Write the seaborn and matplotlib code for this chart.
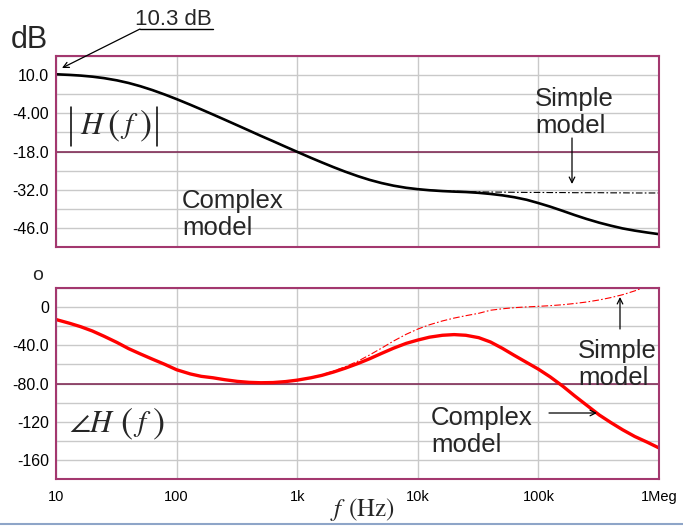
import numpy as np
import pandas as pd
import seaborn as sns
import matplotlib.pyplot as plt
from matplotlib.ticker import MultipleLocator, LogLocator, NullFormatter
from matplotlib.lines import Line2D

# ---- data -----------------------------------------------------------------
freq_hz = [10, 13, 16, 20, 25, 32, 40, 50, 63, 80,
           100, 130, 160, 200, 250, 320, 400, 500, 630, 800,
           1e3, 1.3e3, 1.6e3, 2e3, 2.5e3, 3.2e3, 4e3, 5e3, 6.3e3, 8e3,
           1e4, 1.25e4, 1.6e4, 2e4, 2.5e4, 3.2e4, 4e4, 5e4, 6.3e4, 8e4,
           1e5, 1.25e5, 1.6e5, 2e5, 2.5e5, 3.2e5, 4e5, 5e5, 6.3e5, 8e5,
           1e6]

mag_complex_db = [10.3, 10.07, 9.82, 9.43, 8.89, 8.07, 7.11, 5.93, 4.51, 2.86,
                  1.2, -0.87, -2.57, -4.43, -6.32, -8.43, -10.35, -12.28, -14.21, -16.25,
                  -18.13, -20.32, -21.99, -23.74, -25.39, -27.07, -28.42, -29.56, -30.53, -31.3,
                  -31.81, -32.2, -32.5, -32.7, -32.85, -33.15, -33.55, -34.05, -34.75, -35.7,
                  -36.9, -38.2, -39.8, -41.3, -42.7, -44.1, -45.2, -46.2, -47.0, -47.7,
                  -48.3]
mag_simple_db = [10.3, 10.07, 9.82, 9.43, 8.89, 8.07, 7.11, 5.93, 4.51, 2.86,
                 1.2, -0.87, -2.57, -4.43, -6.32, -8.43, -10.35, -12.28, -14.21, -16.25,
                 -18.13, -20.32, -21.99, -23.74, -25.39, -27.07, -28.42, -29.56, -30.53, -31.3,
                 -31.81, -32.15, -32.4, -32.55, -32.7, -32.8, -32.85, -32.9, -32.95, -33.0,
                 -33.0, -33.05, -33.05, -33.1, -33.1, -33.1, -33.15, -33.15, -33.2, -33.2,
                 -33.2]

phase_complex_deg = [-13, -17, -20.5, -25, -30.5, -37, -43.5, -49, -54.5, -60,
                     -65.6, -70, -72.5, -74, -76, -77.8, -78.8, -79.2, -79, -78,
                     -76.5, -74, -71.5, -68, -64, -59, -54, -48.5, -43, -38,
                     -34.5, -31.5, -29.5, -28.8, -29.5, -32, -36.5, -43, -50.5, -58,
                     -65, -73, -83, -93, -102.5, -113, -121, -128.5, -135.5, -141.5,
                     -147.5]
phase_simple_deg = [-13, -17, -20.5, -25, -30.5, -37, -43.5, -49, -54.5, -60,
                    -65.6, -70, -72.5, -74, -76, -77.8, -78.8, -79.2, -79, -77.9,
                    -76.3, -73.6, -70.8, -67, -62.5, -56.5, -50, -43, -35.5, -28.5,
                    -23, -18.5, -14.5, -11.5, -9, -6.5, -3.3, -1.8, -0.6, 0.2,
                    0.8, 1.5, 2.5, 3.8, 5.3, 7.5, 10, 13, 17, 22,
                    28]

x_tick_values = [10, 100, 1e3, 1e4, 1e5, 1e6]
x_tick_labels = ['10', '100', '1k', '10k', '100k', '1Meg']

mag_grid_values = [17, 10, 3, -4, -11, -18, -25, -32, -39, -46, -53]
mag_tick_labels = ['', '10.0', '', '-4.00', '', '-18.0', '', '-32.0', '', '-46.0', '']
mag_ref_level = -18

phase_grid_values = [20, 0, -20, -40, -60, -80, -100, -120, -140, -160, -180]
phase_tick_labels = ['', '0', '', '-40.0', '', '-80.0', '', '-120', '', '-160', '']
phase_ref_level = -80

models = ['Simple', 'Complex']

# ---- styling --------------------------------------------------------------
sns.set_style('white')
plt.rcParams['font.family'] = ['Liberation Sans', 'DejaVu Sans']
plt.rcParams['mathtext.fontset'] = 'stix'

W, H = 683, 526
FRAME = '#a3386f'
REF = '#7a1f4c'
GRID = '#c9c9c9'


def at(x, y):
    """Pixel position (from top-left) to figure fraction."""
    return (x / W, 1 - y / H)


fig = plt.figure(figsize=(W / 100, H / 100), dpi=100)
fig.patch.set_facecolor('white')
ax_mag = fig.add_axes([56 / W, 1 - 247 / H, 603 / W, 191 / H])
ax_ph = fig.add_axes([56 / W, 1 - 479 / H, 603 / W, 191 / H])

n = len(freq_hz)
mag_df = pd.DataFrame({
    'f': freq_hz * 2,
    'value': mag_simple_db + mag_complex_db,
    'model': ['Simple'] * n + ['Complex'] * n,
})
ph_df = pd.DataFrame({
    'f': freq_hz * 2,
    'value': phase_simple_deg + phase_complex_deg,
    'model': ['Simple'] * n + ['Complex'] * n,
})

dash_map = {'Simple': (6, 2, 1.5, 2), 'Complex': ''}

sns.lineplot(data=mag_df, x='f', y='value', hue='model', style='model', size='model',
             hue_order=models, style_order=models, size_order=models,
             palette={'Simple': 'black', 'Complex': 'black'},
             dashes=dash_map, sizes={'Simple': 0.8, 'Complex': 1.9},
             legend=False, ax=ax_mag, sort=False)
sns.lineplot(data=ph_df, x='f', y='value', hue='model', style='model', size='model',
             hue_order=models, style_order=models, size_order=models,
             palette={'Simple': '#ff0000', 'Complex': '#ff0000'},
             dashes=dash_map, sizes={'Simple': 0.8, 'Complex': 2.4},
             legend=False, ax=ax_ph, sort=False)


def style_axes(ax, grid_vals, grid_labels, ref, minor_step, show_x_labels):
    ax.set_xscale('log')
    ax.set_xlim(x_tick_values[0], x_tick_values[-1])
    ax.set_ylim(grid_vals[-1], grid_vals[0])
    ax.set_xticks(x_tick_values)
    ax.set_xticklabels(x_tick_labels if show_x_labels else [''] * len(x_tick_labels))
    ax.xaxis.set_minor_locator(LogLocator(base=10, subs=np.arange(2, 10)))
    ax.xaxis.set_minor_formatter(NullFormatter())
    ax.set_yticks(grid_vals)
    ax.set_yticklabels(grid_labels)
    ax.yaxis.set_minor_locator(MultipleLocator(minor_step))
    ax.set_xlabel('')
    ax.set_ylabel('')
    ax.grid(False)
    ax.xaxis.grid(True, which='major', color=GRID, lw=1.0)
    ax.yaxis.grid(True, which='major', color=GRID, lw=1.0)
    ax.set_axisbelow(True)
    ax.axhline(ref, color=REF, lw=1.1, zorder=1.5)
    ax.tick_params(axis='both', which='major', length=0)
    ax.tick_params(axis='y', which='major', labelsize=11.5, pad=5, labelcolor='black')
    ax.tick_params(axis='x', which='major', labelsize=10.5, pad=8, labelcolor='black')
    ax.tick_params(axis='both', which='minor', direction='in', length=3,
                   color='#bdbdbd', width=0.8)
    ax.tick_params(axis='x', which='minor', top=False)
    ax.tick_params(axis='y', which='minor', right=False)
    for sp in ax.spines.values():
        sp.set_visible(True)
        sp.set_color(FRAME)
        sp.set_linewidth(1.5)


style_axes(ax_mag, mag_grid_values, mag_tick_labels, mag_ref_level, 1, False)
style_axes(ax_ph, phase_grid_values, phase_tick_labels, phase_ref_level, 5, True)

arrow_kw = dict(arrowstyle='->', color='black', lw=0.9, shrinkA=0, shrinkB=0)


def pointer(ax, tip, tail):
    ax.annotate('', xy=at(*tip), xytext=at(*tail),
                xycoords='figure fraction', textcoords='figure fraction',
                arrowprops=arrow_kw, annotation_clip=False)


def formula(pieces, y):
    """Set a formula piece by piece: (math string, centre x in px, font size)."""
    for s, x, fs in pieces:
        fig.text(*at(x, y), s, fontsize=fs, ha='center', va='center')


# ---- labels and notes -----------------------------------------------------
fig.text(*at(11, 48), 'dB', fontsize=22, ha='left', va='baseline')
fig.text(*at(135, 25), '10.3 dB', fontsize=16, ha='left', va='baseline')
fig.add_artist(Line2D([140 / W, 213 / W], [1 - 29 / H] * 2, color='black', lw=1.0))
pointer(ax_mag, (62, 68), (140, 29))

# |H(f)|
for bx in (71, 157):
    fig.add_artist(Line2D([bx / W] * 2, [1 - 107 / H, 1 - 146 / H], color='black', lw=1.1))
formula([(r'$H$', 93, 22), (r'$($', 114, 26), (r'$f$', 129, 21), (r'$)$', 145, 26)], 126)

fig.text(*at(182, 235), 'Complex\nmodel', fontsize=18.5, ha='left', va='baseline',
         linespacing=1.15)
fig.text(*at(535, 133), 'Simple\nmodel', fontsize=18.5, ha='left', va='baseline',
         linespacing=1.15)
pointer(ax_mag, (572, 184), (572, 138))

fig.text(*at(32, 280), 'o', fontsize=14, ha='left', va='baseline')
# angle H(f)
formula([(r'$\angle H$', 92, 22), (r'$($', 127, 26),
         (r'$f$', 142, 21), (r'$)$', 158, 26)], 424)

fig.text(*at(578, 385), 'Simple\nmodel', fontsize=18.5, ha='left', va='baseline',
         linespacing=1.15)
pointer(ax_ph, (620, 297), (620, 329))
fig.text(*at(431, 452), 'Complex\nmodel', fontsize=18.5, ha='left', va='baseline',
         linespacing=1.15)
pointer(ax_ph, (597, 413), (549, 413))

# f (Hz)
fig.text(*at(338, 510), r'$f$', fontsize=18, ha='center', va='center')
fig.text(*at(371, 510), r'$\left(\mathrm{Hz}\right)$', fontsize=18, ha='center', va='center')

fig.add_artist(Line2D([0, 1], [1 - 524 / H] * 2, color='#8ea5c8', lw=1.5))

fig.savefig('out.png', dpi=100, facecolor='white')
